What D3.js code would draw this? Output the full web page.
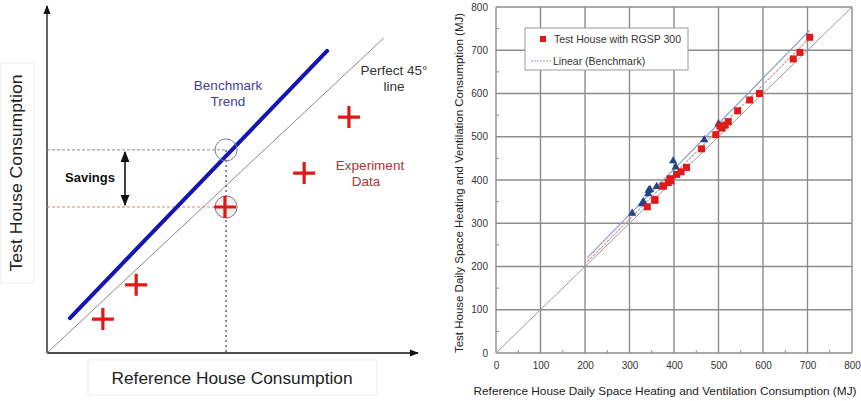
<!DOCTYPE html>
<html>
<head>
<meta charset="utf-8">
<script src="https://cdn.jsdelivr.net/npm/d3@7"></script>
<style>
  html, body { margin: 0; padding: 0; background: #fff; }
  svg { display: block; font-family: "Liberation Sans", Arial, sans-serif; }
</style>
</head>
<body>
<svg id="chart" width="861" height="401"></svg>
<script>
// ---- Schematic (left panel), values in arbitrary units 0..100 ----
const perfectLine = [[0, 0], [91, 91]];
const benchmarkTrend = [[6.2, 10.1], [75.7, 87.3]];
const experimentX = [15.1, 24.1, 48.1, 69.5, 81.6];
const experimentY = [9.8, 19.7, 42.2, 52.0, 68.2];
const readingX = 48.4;            // reference consumption being compared
const benchmarkAtReading = 58.7;  // benchmark trend value at that reading
const measuredAtReading = 42.2;   // measured test house value at that reading

// ---- Measured chart (right panel), MJ ----
const redX = [340, 357, 357, 375, 376, 387, 391, 393, 406, 416, 428, 462, 494, 503, 508, 515, 522, 543, 570, 592, 668, 683, 705];
const redY = [338, 353, 355, 386, 386, 394, 403, 398, 413, 419, 429, 472, 505, 525, 520, 527, 535, 560, 585, 600, 680, 695, 730];
const blueX = [306, 328, 331, 342, 343, 346, 361, 398, 404, 468, 500];
const blueY = [323, 345, 350, 368, 376, 378, 385, 444, 430, 493, 530];
const benchLineX = [205, 705];
const benchLineY = [220, 746];
const testTrendX = [205, 706];
const testTrendY = [211, 730];
const tickValues = [0, 100, 200, 300, 400, 500, 600, 700, 800];
const minorValues = [50, 150, 250, 350, 450, 550, 650, 750];

const svg = d3.select("#chart");

// ================= Left schematic =================
const L = svg.append("g");
const lx = d3.scaleLinear().domain([0, 100]).range([47, 417]);
const ly = d3.scaleLinear().domain([0, 100]).range([353, 7]);

const defs = svg.append("defs");
defs.append("marker").attr("id", "arrowBlack").attr("viewBox", "0 0 10 10")
  .attr("refX", 9).attr("refY", 5).attr("markerWidth", 7).attr("markerHeight", 7)
  .attr("orient", "auto-start-reverse")
  .append("path").attr("d", "M0,1 L10,5 L0,9 Z").attr("fill", "#111");

// Axis title frames
L.append("rect").attr("x", 1).attr("y", 63).attr("width", 33).attr("height", 220)
  .attr("fill", "none").attr("stroke", "#ececec");
L.append("rect").attr("x", 88).attr("y", 360).attr("width", 289).attr("height", 35)
  .attr("fill", "none").attr("stroke", "#ececec");

// Axes with arrows
L.append("line").attr("x1", lx(0)).attr("y1", ly(0)).attr("x2", lx(0)).attr("y2", 6)
  .attr("stroke", "#111").attr("stroke-width", 1.3).attr("marker-end", "url(#arrowBlack)");
L.append("line").attr("x1", lx(0)).attr("y1", ly(0)).attr("x2", 418).attr("y2", ly(0))
  .attr("stroke", "#111").attr("stroke-width", 1.3).attr("marker-end", "url(#arrowBlack)");

// Perfect 45 degree line
L.append("line")
  .attr("x1", lx(perfectLine[0][0])).attr("y1", ly(perfectLine[0][1]))
  .attr("x2", lx(perfectLine[1][0])).attr("y2", ly(perfectLine[1][1]))
  .attr("stroke", "#8a8a8a").attr("stroke-width", 1);

// Guide lines for the savings reading
L.append("line").attr("x1", lx(0)).attr("x2", lx(readingX))
  .attr("y1", ly(benchmarkAtReading)).attr("y2", ly(benchmarkAtReading))
  .attr("stroke", "#8a8a9a").attr("stroke-width", 1).attr("stroke-dasharray", "3,2");
L.append("line").attr("x1", lx(0)).attr("x2", lx(readingX))
  .attr("y1", ly(measuredAtReading)).attr("y2", ly(measuredAtReading))
  .attr("stroke", "#d08a8a").attr("stroke-width", 1).attr("stroke-dasharray", "3,2");
L.append("line").attr("x1", lx(readingX)).attr("x2", lx(readingX))
  .attr("y1", ly(benchmarkAtReading)).attr("y2", ly(0))
  .attr("stroke", "#444").attr("stroke-width", 1.2).attr("stroke-dasharray", "2,3");

// Benchmark trend
L.append("line")
  .attr("x1", lx(benchmarkTrend[0][0])).attr("y1", ly(benchmarkTrend[0][1]))
  .attr("x2", lx(benchmarkTrend[1][0])).attr("y2", ly(benchmarkTrend[1][1]))
  .attr("stroke", "#1515b5").attr("stroke-width", 4).attr("stroke-linecap", "round");

// Circles around the compared pair
L.append("circle").attr("cx", lx(readingX)).attr("cy", ly(benchmarkAtReading)).attr("r", 11)
  .attr("fill", "none").attr("stroke", "#7a7a9a").attr("stroke-width", 1);
L.append("circle").attr("cx", lx(readingX)).attr("cy", ly(measuredAtReading)).attr("r", 11)
  .attr("fill", "#f2f2f2").attr("stroke", "#777").attr("stroke-width", 1);

// Experiment crosses
const crossPath = "M-11,0 H11 M0,-11 V11";
L.selectAll("path.cross").data(experimentX.map((v, i) => [v, experimentY[i]]))
  .join("path").attr("class", "cross")
  .attr("transform", d => `translate(${lx(d[0])},${ly(d[1])})`)
  .attr("d", crossPath).attr("stroke", "#e01818").attr("stroke-width", 3.2).attr("fill", "none");

// Savings arrow
L.append("line").attr("x1", 125).attr("x2", 125)
  .attr("y1", ly(benchmarkAtReading) + 2).attr("y2", ly(measuredAtReading) - 2)
  .attr("stroke", "#111").attr("stroke-width", 1.6)
  .attr("marker-start", "url(#arrowBlack)").attr("marker-end", "url(#arrowBlack)");
L.append("text").attr("x", 90).attr("y", 182).attr("text-anchor", "middle")
  .attr("font-size", 13).attr("font-weight", "bold").attr("fill", "#111").text("Savings");

// Annotations
const ann = [
  { t: "Benchmark", x: 228, y: 90, c: "#3f3f98" },
  { t: "Trend", x: 228, y: 106, c: "#3f3f98" },
  { t: "Perfect 45°", x: 394, y: 75, c: "#333" },
  { t: "line", x: 394, y: 91, c: "#333" },
  { t: "Experiment", x: 370, y: 170, c: "#b0353a" },
  { t: "Data", x: 366, y: 186, c: "#b0353a" }
];
L.selectAll("text.ann").data(ann).join("text").attr("class", "ann")
  .attr("x", d => d.x).attr("y", d => d.y).attr("text-anchor", "middle")
  .attr("font-size", 13.5).attr("fill", d => d.c).text(d => d.t);

// Axis titles
L.append("text").attr("transform", "translate(22,173) rotate(-90)")
  .attr("text-anchor", "middle").attr("font-size", 16).attr("fill", "#222")
  .attr("textLength", 197).attr("lengthAdjust", "spacingAndGlyphs")
  .text("Test House Consumption");
L.append("text").attr("x", 232).attr("y", 384).attr("text-anchor", "middle")
  .attr("font-size", 16).attr("fill", "#222")
  .attr("textLength", 241).attr("lengthAdjust", "spacingAndGlyphs")
  .text("Reference House Consumption");

// ================= Right measured chart =================
const R = svg.append("g");
const x = d3.scaleLinear().domain([0, 800]).range([496, 852]);
const y = d3.scaleLinear().domain([0, 800]).range([353, 7]);
const gridColor = "#8c8c8c";

// Grid and frame
R.append("g").selectAll("line").data(tickValues).join("line")
  .attr("x1", d => x(d)).attr("x2", d => x(d)).attr("y1", y(0)).attr("y2", y(800))
  .attr("stroke", gridColor).attr("stroke-width", 1.4);
R.append("g").selectAll("line").data(tickValues).join("line")
  .attr("y1", d => y(d)).attr("y2", d => y(d)).attr("x1", x(0)).attr("x2", x(800))
  .attr("stroke", gridColor).attr("stroke-width", 1.4);

// Minor ticks
R.append("g").selectAll("line").data(minorValues).join("line")
  .attr("x1", d => x(d)).attr("x2", d => x(d)).attr("y1", y(0)).attr("y2", y(0) - 3)
  .attr("stroke", gridColor).attr("stroke-width", 1);
R.append("g").selectAll("line").data(minorValues).join("line")
  .attr("y1", d => y(d)).attr("y2", d => y(d)).attr("x1", x(0)).attr("x2", x(0) + 3)
  .attr("stroke", gridColor).attr("stroke-width", 1);

// Tick labels via axes
const xAxis = R.append("g").attr("transform", `translate(0,${y(0)})`)
  .call(d3.axisBottom(x).tickValues(tickValues).tickSize(0).tickPadding(9).tickFormat(d3.format("d")));
const yAxis = R.append("g").attr("transform", `translate(${x(0)},0)`)
  .call(d3.axisLeft(y).tickValues(tickValues).tickSize(0).tickPadding(8).tickFormat(d3.format("d")));
[xAxis, yAxis].forEach(a => {
  a.select(".domain").remove();
  a.selectAll("text").attr("font-size", 10).attr("fill", "#333")
    .attr("font-family", "\"Liberation Sans\", Arial, sans-serif");
});

// Perfect 45 degree line
R.append("line").attr("x1", x(0)).attr("y1", y(0)).attr("x2", x(800)).attr("y2", y(800))
  .attr("stroke", "#9a9a9a").attr("stroke-width", 1);

// Linear trends
R.append("line").attr("x1", x(benchLineX[0])).attr("y1", y(benchLineY[0]))
  .attr("x2", x(benchLineX[1])).attr("y2", y(benchLineY[1]))
  .attr("stroke", "#8d9cc0").attr("stroke-width", 1.1);
R.append("line").attr("x1", x(testTrendX[0])).attr("y1", y(testTrendY[0]))
  .attr("x2", x(testTrendX[1])).attr("y2", y(testTrendY[1]))
  .attr("stroke", "#c99aa2").attr("stroke-width", 1.1).attr("stroke-dasharray", "3,1");

// Benchmark points (triangles)
R.append("g").selectAll("path").data(blueX.map((v, i) => [v, blueY[i]])).join("path")
  .attr("transform", d => `translate(${x(d[0])},${y(d[1])})`)
  .attr("d", d3.symbol(d3.symbolTriangle, 30))
  .attr("fill", "#21448c");

// Test house points (squares)
R.append("g").selectAll("path").data(redX.map((v, i) => [v, redY[i]])).join("path")
  .attr("transform", d => `translate(${x(d[0])},${y(d[1])})`)
  .attr("d", d3.symbol(d3.symbolSquare, 49))
  .attr("fill", "#e01a1a");

// Legend
const lg = R.append("g");
lg.append("rect").attr("x", 525).attr("y", 28).attr("width", 163).attr("height", 42)
  .attr("fill", "#fff").attr("stroke", "#999").attr("stroke-width", 1);
lg.append("path").attr("transform", "translate(543,39)")
  .attr("d", d3.symbol(d3.symbolSquare, 36)).attr("fill", "#e01a1a");
lg.append("text").attr("x", 554).attr("y", 43).attr("font-size", 10.5).attr("fill", "#333")
  .text("Test House with RGSP 300");
lg.append("line").attr("x1", 531).attr("x2", 552).attr("y1", 61).attr("y2", 61)
  .attr("stroke", "#8d9cc0").attr("stroke-width", 1).attr("stroke-dasharray", "2,1");
lg.append("text").attr("x", 553).attr("y", 65).attr("font-size", 10.5).attr("fill", "#333")
  .text("Linear (Benchmark)");

// Axis titles
R.append("text").attr("x", 665).attr("y", 395).attr("text-anchor", "middle")
  .attr("font-size", 11).attr("fill", "#222")
  .attr("textLength", 383).attr("lengthAdjust", "spacingAndGlyphs")
  .text("Reference House Daily Space Heating and Ventilation Consumption (MJ)");
R.append("text").attr("transform", "translate(463,183) rotate(-90)")
  .attr("text-anchor", "middle").attr("font-size", 10.5).attr("fill", "#222")
  .attr("textLength", 340).attr("lengthAdjust", "spacingAndGlyphs")
  .text("Test House Daily Space Heating and Ventilation Consumption (MJ)");
</script>
</body>
</html>
